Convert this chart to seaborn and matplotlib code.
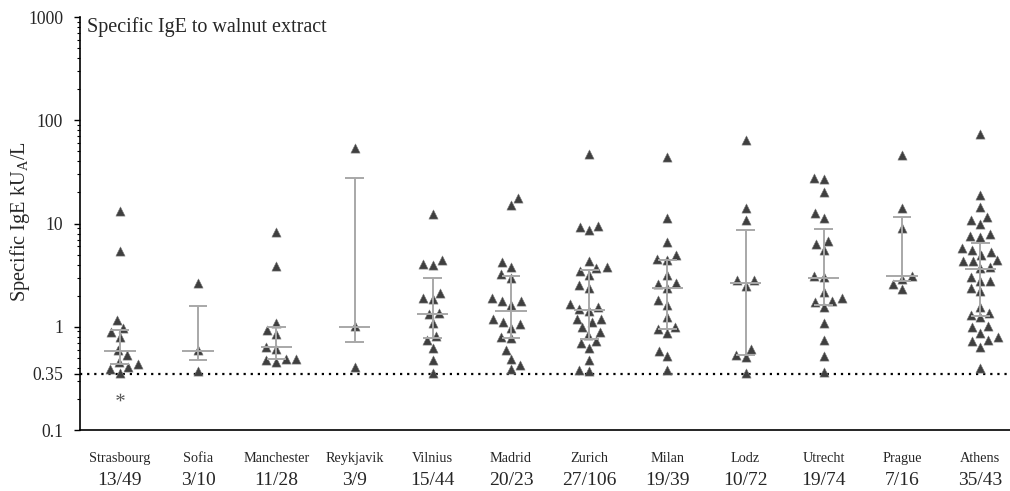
import numpy as np
import pandas as pd
import matplotlib
matplotlib.use('Agg')
import matplotlib.pyplot as plt
import matplotlib.ticker as mticker
import seaborn as sns

# city order and positive/total counts under each group
cities = ['Strasbourg', 'Sofia', 'Manchester', 'Reykjavik', 'Vilnius', 'Madrid',
          'Zurich', 'Milan', 'Lodz', 'Utrecht', 'Prague', 'Athens']
ratios = ['13/49', '3/10', '11/28', '3/9', '15/44', '20/23',
          '27/106', '19/39', '10/72', '19/74', '7/16', '35/43']

# specific IgE values (kUA/L)
strasbourg = [13.1, 5.4, 1.16, 0.97, 0.89, 0.79, 0.59, 0.53, 0.46, 0.44, 0.41, 0.39, 0.36]
sofia = [2.63, 0.59, 0.37]
manchester = [8.3, 3.9, 1.09, 0.93, 0.85, 0.64, 0.61, 0.49, 0.48, 0.49, 0.46]
reykjavik = [54.4, 1.02, 0.41]
vilnius = [12.4, 4.0, 4.07, 4.45, 2.12, 1.9, 1.84, 1.32, 1.36, 1.08, 0.82, 0.74, 0.62, 0.48, 0.353]
madrid = [17.6, 15.1, 3.83, 4.2, 3.23, 3.0, 1.78, 1.92, 1.76, 1.63, 1.18, 1.12, 1.06, 0.97,
          0.80, 0.78, 0.59, 0.49, 0.39, 0.43]
zurich = [47.0, 8.6, 9.5, 9.3, 4.29, 3.7, 3.83, 3.48, 3.18, 2.37, 2.53, 1.57, 1.5, 1.66, 1.43,
          1.1, 1.2, 1.2, 0.89, 0.83, 0.70, 0.73, 0.62, 0.48, 0.375, 0.38, 1.0]
milan = [44.3, 11.3, 6.65, 4.98, 4.58, 4.45, 3.14, 2.66, 2.57, 2.4, 1.8, 1.62, 1.25, 1.0,
         0.95, 0.87, 0.58, 0.52, 0.38]
lodz = [64.0, 14.1, 10.8, 2.83, 2.83, 2.5, 0.61, 0.51, 0.53, 0.356]
utrecht = [26.9, 27.9, 20.1, 12.6, 11.2, 6.8, 6.4, 5.56, 3.1, 3.05, 2.17, 1.88, 1.78, 1.73,
           1.57, 1.09, 0.74, 0.52, 0.365]
prague = [45.8, 14.1, 9.1, 3.12, 2.93, 2.59, 2.32]
athens = [73.0, 18.8, 14.5, 11.6, 10.8, 9.85, 8.0, 7.6, 7.4, 5.77, 5.52, 4.98, 5.25, 4.42,
          4.35, 4.35, 3.7, 3.76, 2.79, 3.05, 2.75, 2.35, 2.2, 1.56, 1.31, 1.35, 1.23, 1.0,
          1.01, 0.88, 0.79, 0.74, 0.73, 0.64, 0.40]

# median and interquartile range drawn as grey bars
medians = [0.585, 0.585, 0.63, 1.0, 1.33, 1.41, 1.46, 2.38, 2.63, 3.0, 3.07, 3.62]
q_low = [0.435, 0.476, 0.487, 0.71, 0.77, 0.78, 0.76, 0.96, 0.535, 1.61, 2.75, 1.27]
q_high = [0.94, 1.6, 1.0, 27.3, 3.0, 3.07, 3.54, 4.42, 8.7, 8.9, 11.5, 6.54]

# the one value marked with an asterisk
star_city = ['Strasbourg']
star_value = [0.207]

cutoff = 0.35

values = [strasbourg, sofia, manchester, reykjavik, vilnius, madrid,
          zurich, milan, lodz, utrecht, prague, athens]
df = pd.concat([pd.DataFrame({'City': c, 'IgE': v}) for c, v in zip(cities, values)],
               ignore_index=True)

sns.set_style('ticks')
plt.rcParams['font.family'] = ['Liberation Serif', 'DejaVu Serif']
plt.rcParams['mathtext.fontset'] = 'custom'
plt.rcParams['mathtext.rm'] = 'Liberation Serif'

fig = plt.figure(figsize=(10.1, 4.91), dpi=100)
ax = fig.add_axes([0.0792, 0.1242, 0.9208, 0.8411])
ax.set_yscale('log')

sns.swarmplot(data=df, x='City', y='IgE', order=cities, marker='^', size=6.6,
              color='#3f3f3f', edgecolor='#7a7a7a', linewidth=0.4, ax=ax, zorder=2)
sns.stripplot(x=star_city, y=star_value, order=cities, marker='$*$', size=6, jitter=False,
              color='#555555', linewidth=0, ax=ax, zorder=2)

# median line and IQR whiskers
pos = np.arange(len(cities))
grey = '#a8a8a8'
ax.vlines(pos, q_low, q_high, color=grey, lw=1.4, zorder=3)
ax.hlines(medians, pos - 0.2, pos + 0.2, color=grey, lw=1.4, zorder=3)
ax.hlines(q_low, pos - 0.12, pos + 0.12, color=grey, lw=1.4, zorder=3)
ax.hlines(q_high, pos - 0.12, pos + 0.12, color=grey, lw=1.4, zorder=3)

ax.axhline(cutoff, color='black', lw=1.6, ls=(0, (1, 2.2)), zorder=1)

ax.set_ylim(0.1, 1000)
ax.set_xlim(-0.51, 11.38)
ax.yaxis.set_major_locator(mticker.FixedLocator([0.1, 0.35, 1, 10, 100, 1000]))
ax.yaxis.set_major_formatter(mticker.FixedFormatter(['0.1', '0.35', '1', '10', '100', '1000']))
ax.yaxis.set_minor_locator(mticker.LogLocator(base=10, subs=np.arange(2, 10)))
ax.yaxis.set_minor_formatter(mticker.NullFormatter())
ax.tick_params(axis='y', which='major', length=4, width=1, pad=8, labelsize=12.7, color='black')
ax.tick_params(axis='y', which='minor', length=2.5, width=0.8, color='black')
ax.tick_params(axis='x', length=0, pad=16, labelsize=10.3)
ax.set_xlabel('')
ax.set_ylabel('Specific IgE kU$_{\\mathregular{A}}$/L', fontsize=14.7)
ax.yaxis.set_label_coords(-0.052, 0.505)

for i, r in enumerate(ratios):
    ax.text(i, -0.122, r, transform=ax.get_xaxis_transform(), ha='center', va='center',
            fontsize=14)

ax.text(0.008, 1.0, 'Specific IgE to walnut extract', transform=ax.transAxes,
        ha='left', va='top', fontsize=14.5)

for s in ['top', 'right']:
    ax.spines[s].set_visible(False)
for s in ['left', 'bottom']:
    ax.spines[s].set_color('black')
    ax.spines[s].set_linewidth(1.2)

fig.savefig('out.png', dpi=100)
